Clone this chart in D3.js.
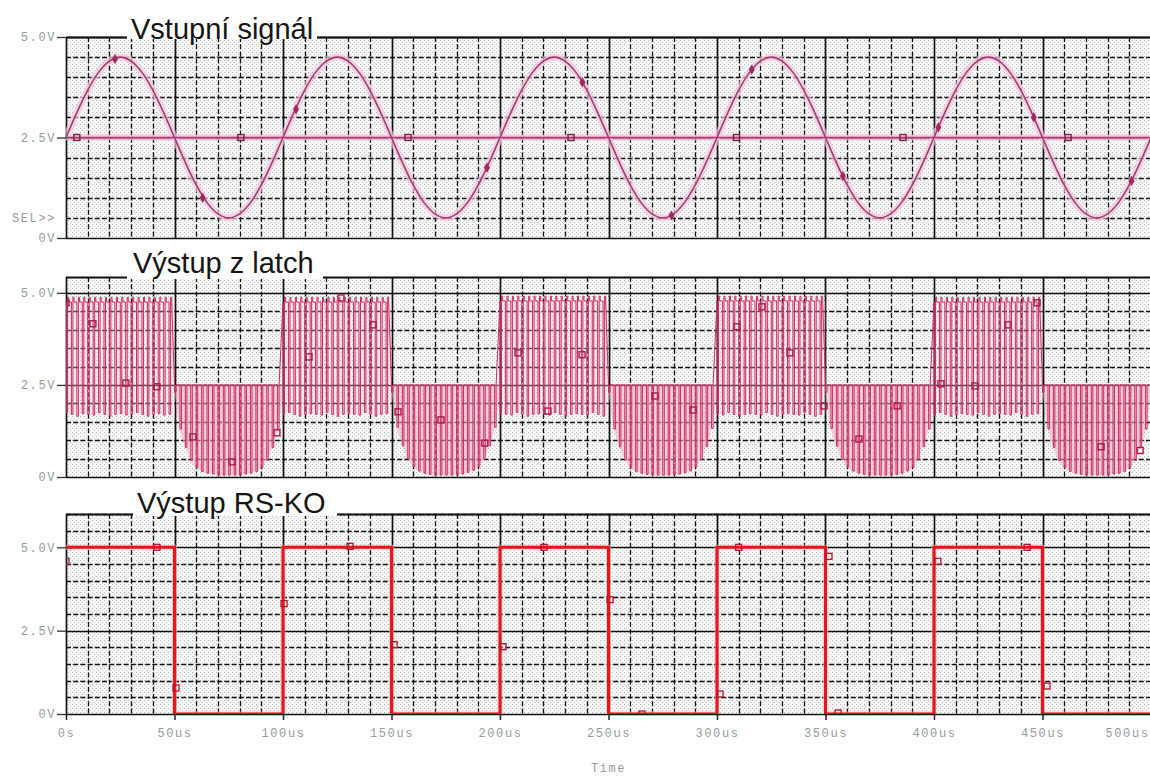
<!DOCTYPE html>
<html>
<head>
<meta charset="utf-8">
<script src="https://cdn.jsdelivr.net/npm/d3@7"></script>
<style>
  body { margin: 0; background: #fff; }
  svg { display: block; }
  .lbl text, text.lbl { font-family: "Liberation Mono", "DejaVu Sans Mono", monospace; font-size: 12px; fill: #959ca1; letter-spacing: 1.6px; }
  .ttl { font-family: "Liberation Sans", Arial, sans-serif; font-size: 29px; fill: #151515; }
</style>
</head>
<body>
<script>
// ---- data ----

var titles = ["Vstupní signál", "Výstup z latch", "Výstup RS-KO"];

var timeTicks = [0, 50, 100, 150, 200, 250, 300, 350, 400, 450, 500];
var timeLabels = ["0s", "50us", "100us", "150us", "200us", "250us", "300us", "350us", "400us", "450us", "500us"];

var voltTicks = [5, 2.5, 0];
var voltLabels = ["5.0V", "2.5V", "0V"];

// input sine, sampled every 5us
var sineStep = 5;
var sineValues = [
  2.50, 3.12, 3.68, 4.12, 4.40, 4.50, 4.40, 4.12, 3.68, 3.12,
  2.50, 1.88, 1.32, 0.88, 0.60, 0.50, 0.60, 0.88, 1.32, 1.88,
  2.50, 3.12, 3.68, 4.12, 4.40, 4.50, 4.40, 4.12, 3.68, 3.12,
  2.50, 1.88, 1.32, 0.88, 0.60, 0.50, 0.60, 0.88, 1.32, 1.88,
  2.50, 3.12, 3.68, 4.12, 4.40, 4.50, 4.40, 4.12, 3.68, 3.12,
  2.50, 1.88, 1.32, 0.88, 0.60, 0.50, 0.60, 0.88, 1.32, 1.88,
  2.50, 3.12, 3.68, 4.12, 4.40, 4.50, 4.40, 4.12, 3.68, 3.12,
  2.50, 1.88, 1.32, 0.88, 0.60, 0.50, 0.60, 0.88, 1.32, 1.88,
  2.50, 3.12, 3.68, 4.12, 4.40, 4.50, 4.40, 4.12, 3.68, 3.12,
  2.50, 1.88, 1.32, 0.88, 0.60, 0.50, 0.60, 0.88, 1.32, 1.88,
  2.50
];
var refLevel = [[0, 2.5], [500, 2.5]];
var sineMarks = [[22.6, 4.45], [63, 1.0], [106, 3.2], [194, 1.75], [238, 3.87], [279, 0.56],
                 [316, 4.19], [358, 1.54], [402, 2.75], [446, 3.0], [491, 1.42]];
var refMarks = [5, 80.6, 157.6, 232.7, 309, 385.7, 461.8];

// latch output: phases of 50us, ceiling level per phase, and where each
// clock spike (every 2.5us) ends
var latchStep = 2.5;
var latchPhaseStart = [0, 50, 100, 150, 200, 250, 300, 350, 400, 450];
var latchTop = [4.75, 2.5, 4.75, 2.5, 4.78, 2.5, 4.78, 2.5, 4.75, 2.5];
var latchFloor = [
  [1.75, 1.70, 1.65, 1.72, 1.70, 1.68, 1.75, 1.70, 1.65, 1.70, 1.72, 1.68, 1.70, 1.75, 1.70, 1.65, 1.70, 1.72, 1.68, 1.70],
  [2.30, 1.30, 0.80, 0.45, 0.25, 0.15, 0.10, 0.08, 0.05, 0.05, 0.05, 0.05, 0.05, 0.08, 0.10, 0.15, 0.25, 0.45, 0.80, 1.30],
  [1.70, 1.75, 1.70, 1.65, 1.70, 1.72, 1.70, 1.68, 1.75, 1.70, 1.65, 1.70, 1.72, 1.70, 1.68, 1.75, 1.70, 1.65, 1.70, 1.72],
  [2.30, 1.35, 0.85, 0.50, 0.28, 0.16, 0.10, 0.07, 0.05, 0.05, 0.05, 0.05, 0.06, 0.08, 0.12, 0.18, 0.28, 0.48, 0.85, 1.35],
  [1.72, 1.70, 1.68, 1.75, 1.70, 1.65, 1.70, 1.72, 1.70, 1.68, 1.75, 1.70, 1.65, 1.70, 1.72, 1.70, 1.68, 1.75, 1.70, 1.65],
  [2.30, 1.30, 0.82, 0.46, 0.26, 0.15, 0.10, 0.07, 0.05, 0.05, 0.05, 0.05, 0.06, 0.08, 0.11, 0.16, 0.27, 0.47, 0.82, 1.32],
  [1.70, 1.68, 1.75, 1.70, 1.65, 1.70, 1.72, 1.70, 1.68, 1.75, 1.70, 1.65, 1.70, 1.72, 1.70, 1.68, 1.75, 1.70, 1.65, 1.70],
  [2.30, 1.32, 0.84, 0.48, 0.27, 0.16, 0.10, 0.07, 0.05, 0.05, 0.05, 0.05, 0.05, 0.07, 0.10, 0.16, 0.26, 0.46, 0.82, 1.30],
  [1.68, 1.75, 1.70, 1.65, 1.70, 1.72, 1.70, 1.68, 1.75, 1.70, 1.65, 1.70, 1.72, 1.70, 1.68, 1.75, 1.70, 1.65, 1.70, 1.72],
  [2.30, 1.30, 0.80, 0.45, 0.25, 0.15, 0.10, 0.07, 0.05, 0.05, 0.05, 0.05, 0.05, 0.08, 0.10, 0.15, 0.25, 0.45, 0.80, 1.30]
];
var latchMarks = [[0, 4.73], [12.4, 4.16], [27.6, 2.55], [41.9, 2.45], [58.5, 1.09], [76.5, 0.41],
                  [97.2, 1.2], [112, 3.26], [126.7, 4.86], [141.5, 4.13], [153, 1.77], [172.8, 1.55],
                  [193, 0.92], [208.3, 3.37], [222.1, 1.79], [237.8, 3.32], [271.4, 2.2], [289, 1.82],
                  [309.2, 4.08], [320.7, 4.62], [333.6, 3.37], [349.3, 1.93], [365.4, 1.03], [383, 1.93],
                  [403.2, 2.53], [418.9, 2.47], [434.1, 4.13], [447.5, 4.73], [477, 0.82], [495, 0.72]];

// RS flip-flop output (step changes)
var rsTimes = [0, 50, 100, 150, 200, 250, 300, 350, 400, 450, 500];
var rsValues = [5, 0, 5, 0, 5, 0, 5, 0, 5, 0, 0];
var rsMarks = [[0, 4.58], [41.9, 5.0], [50.7, 0.78], [100.5, 3.31], [130.9, 5.03], [151.2, 2.08],
               [201.4, 2.02], [220.3, 5.0], [250.7, 3.43], [265.4, 0.0], [301.4, 0.6], [310, 5.0],
               [351.6, 4.73], [355.8, 0.03], [401.8, 4.58], [442.9, 5.0], [452.1, 0.84]];

// ---- layout ----
var width = 1150, height = 776;

var x = d3.scaleLinear().domain([0, 500]).range([66, 1151]);

var panels = [
  { y: d3.scaleLinear().domain([0, 5]).range([238, 37]),    gap: [127, 317], tx: 131, ty: 39 },
  { y: d3.scaleLinear().domain([0, 5.43]).range([477, 277]), gap: [127, 323], tx: 133, ty: 273 },
  { y: d3.scaleLinear().domain([0, 6]).range([714, 514]),   gap: [133, 337], tx: 137, ty: 513 }
];

var svg = d3.select("body").append("svg")
  .attr("width", width)
  .attr("height", height);

var defs = svg.append("defs");

// stippled grey plot background
var pat = defs.append("pattern")
  .attr("id", "stip")
  .attr("width", 4).attr("height", 4)
  .attr("patternUnits", "userSpaceOnUse");
pat.append("rect").attr("width", 4).attr("height", 4).attr("fill", "#f7f7f7");
pat.append("rect").attr("x", 0).attr("y", 0).attr("width", 1).attr("height", 1).attr("fill", "#bababa");
pat.append("rect").attr("x", 2).attr("y", 2).attr("width", 1).attr("height", 1).attr("fill", "#cdcdcd");

var gridT = d3.range(0, 500.001, 10);

panels.forEach(function (p, i) {
  var yb = p.y.range()[0], yt = p.y.range()[1], top = p.y.domain()[1];

  defs.append("clipPath").attr("id", "clip" + i)
    .append("rect")
      .attr("x", x(0)).attr("y", yt)
      .attr("width", x(500) - x(0)).attr("height", yb - yt);

  var g = svg.append("g");

  g.append("rect")
    .attr("x", x(0)).attr("y", yt)
    .attr("width", x(500) - x(0)).attr("height", yb - yt)
    .attr("fill", "url(#stip)");

  // horizontal grid, every 0.5V
  var hv = d3.range(0, top + 1e-6, 0.5);
  g.selectAll(".hgrid")
    .data(hv)
    .join("line")
      .attr("x1", x(0)).attr("x2", x(500))
      .attr("y1", function (d) { return Math.round(p.y(d)) + 0.5; })
      .attr("y2", function (d) { return Math.round(p.y(d)) + 0.5; })
      .attr("stroke", "#111")
      .attr("stroke-width", function (d) { return d % 2.5 === 0 ? 1.7 : 1.3; })
      .attr("stroke-dasharray", function (d) { return d % 2.5 === 0 ? null : "5,2.2"; });

  // vertical grid, every 10us
  g.selectAll(".vgrid")
    .data(gridT)
    .join("line")
      .attr("x1", function (d) { return Math.round(x(d)) + 0.5; })
      .attr("x2", function (d) { return Math.round(x(d)) + 0.5; })
      .attr("y1", yt).attr("y2", yb)
      .attr("stroke", "#111")
      .attr("stroke-width", function (d) { return d % 50 === 0 ? 1.7 : 1.3; })
      .attr("stroke-dasharray", function (d) { return d % 50 === 0 ? null : "5,2.2"; });

  // top border
  g.append("line")
    .attr("x1", x(0)).attr("x2", x(500))
    .attr("y1", Math.round(yt) + 0.5).attr("y2", Math.round(yt) + 0.5)
    .attr("stroke", "#111").attr("stroke-width", 1.8);

  // y axis labels with their little lead-in ticks
  var ax = g.append("g")
    .attr("class", "lbl")
    .attr("transform", "translate(" + x(0) + ",0)")
    .call(d3.axisLeft(p.y)
      .tickValues(voltTicks)
      .tickFormat(function (d, k) { return voltLabels[k]; })
      .tickSize(9)
      .tickPadding(1));
  ax.select(".domain").remove();
  ax.selectAll(".tick line").attr("stroke", "#333").attr("stroke-width", 1.3);
  ax.selectAll("text").attr("font-family", null).attr("font-size", null);
});

// ---- panel 1: input sine and 2.5V reference ----
var y1 = panels[0].y;
var line1 = d3.line()
  .x(function (d, k) { return x(k * sineStep); })
  .y(function (d) { return y1(d); })
  .curve(d3.curveCatmullRom);
var refLine = d3.line()
  .x(function (d) { return x(d[0]); })
  .y(function (d) { return y1(d[1]); });

var t1 = svg.append("g").attr("clip-path", "url(#clip0)");
t1.append("path").attr("d", refLine(refLevel))
  .attr("fill", "none").attr("stroke", "#f4bdd6").attr("stroke-width", 6).attr("opacity", 0.7);
t1.append("path").attr("d", line1(sineValues))
  .attr("fill", "none").attr("stroke", "#f6c4dc").attr("stroke-width", 7).attr("opacity", 0.7);
t1.append("path").attr("d", refLine(refLevel))
  .attr("fill", "none").attr("stroke", "#b23474").attr("stroke-width", 1.7);
t1.append("path").attr("d", line1(sineValues))
  .attr("fill", "none").attr("stroke", "#9e3f72").attr("stroke-width", 1.6);

t1.selectAll(".sm")
  .data(sineMarks)
  .join("path")
    .attr("transform", function (d) { return "translate(" + x(d[0]) + "," + y1(d[1]) + ")"; })
    .attr("d", d3.symbol(d3.symbolDiamond, 30))
    .attr("fill", "#a0285e");
t1.selectAll(".rm")
  .data(refMarks)
  .join("rect")
    .attr("x", function (d) { return x(d) - 3; })
    .attr("y", y1(2.5) - 3)
    .attr("width", 6).attr("height", 6)
    .attr("fill", "none").attr("stroke", "#7c1f48").attr("stroke-width", 1.4);

// SEL>> marker label
svg.append("text")
  .attr("class", "lbl")
  .attr("x", 56).attr("y", y1(0.5) + 4)
  .attr("text-anchor", "end")
  .text("SEL>>");

// ---- panel 2: latch output ----
var y2 = panels[1].y;
var latchPts = [];
latchPhaseStart.forEach(function (s, pi) {
  var topV = latchTop[pi], high = topV > 3;
  latchFloor[pi].forEach(function (f, j) {
    var t = s + j * latchStep;
    latchPts.push([t, topV], [t, f], [t + 0.7, f]);
    if (high) {
      latchPts.push([t + 0.7, topV + 0.13], [t + 1.2, topV + 0.13], [t + 1.2, topV]);
    } else {
      latchPts.push([t + 0.7, topV]);
    }
  });
});
latchPts.push([500, 2.5]);

var line2 = d3.line()
  .x(function (d) { return x(d[0]); })
  .y(function (d) { return y2(d[1]); });

var t2 = svg.append("g").attr("clip-path", "url(#clip1)");

// pink haze where the spikes are dense
latchPhaseStart.forEach(function (s, pi) {
  var topV = latchTop[pi], high = topV > 3;
  var pts = latchFloor[pi].map(function (f, j) { return [s + j * latchStep, f]; });
  pts.push([s + 50, high ? latchFloor[pi][19] : 2.3]);
  var area = d3.area()
    .x(function (d) { return x(d[0]); })
    .y0(y2(topV))
    .y1(function (d) { return y2(d[1]); })
    .curve(d3.curveMonotoneX);
  t2.append("path")
    .attr("d", area(pts))
    .attr("fill", high ? "#f7d2e1" : "#f0afc9")
    .attr("opacity", high ? 0.3 : 0.55);
});

t2.append("path").attr("d", line2(latchPts))
  .attr("fill", "none").attr("stroke", "#cc2c62").attr("stroke-width", 1);

t2.selectAll(".lm")
  .data(latchMarks)
  .join("rect")
    .attr("x", function (d) { return x(d[0]) - 3; })
    .attr("y", function (d) { return y2(d[1]) - 3; })
    .attr("width", 6).attr("height", 6)
    .attr("fill", "none").attr("stroke", "#a81d48").attr("stroke-width", 1.4);

// ---- panel 3: RS flip-flop output ----
var y3 = panels[2].y;
var line3 = d3.line()
  .x(function (d, k) { return x(rsTimes[k]); })
  .y(function (d) { return y3(d); })
  .curve(d3.curveStepAfter);

var t3 = svg.append("g").attr("clip-path", "url(#clip2)");
t3.append("path").attr("d", line3(rsValues))
  .attr("fill", "none").attr("stroke", "#f7b7b7").attr("stroke-width", 5).attr("opacity", 0.6);
t3.append("path").attr("d", line3(rsValues))
  .attr("fill", "none").attr("stroke", "#e8161c").attr("stroke-width", 3);

t3.selectAll(".rsm")
  .data(rsMarks)
  .join("rect")
    .attr("x", function (d) { return x(d[0]) - 3; })
    .attr("y", function (d) { return y3(d[1]) - 3; })
    .attr("width", 6).attr("height", 6)
    .attr("fill", "none").attr("stroke", "#b0182a").attr("stroke-width", 1.3);

// ---- titles sit in a gap of the top border ----
panels.forEach(function (p, i) {
  var yt = p.y.range()[1];
  svg.append("rect")
    .attr("x", p.gap[0]).attr("y", yt - 30)
    .attr("width", p.gap[1] - p.gap[0]).attr("height", 32)
    .attr("fill", "#fff");
  svg.append("text")
    .attr("class", "ttl")
    .attr("x", p.tx).attr("y", p.ty)
    .text(titles[i]);
});

// ---- time axis ----
var xa = svg.append("g")
  .attr("class", "lbl")
  .attr("transform", "translate(0," + y3(0) + ")")
  .call(d3.axisBottom(x)
    .tickValues(timeTicks)
    .tickFormat(function (d, k) { return timeLabels[k]; })
    .tickSize(6)
    .tickPadding(8));
xa.select(".domain").remove();
xa.selectAll(".tick line").attr("stroke", "#222").attr("stroke-width", 1.5);
xa.selectAll("text").attr("font-family", null).attr("font-size", null);
// last label would run off the right edge: keep it inside
xa.selectAll(".tick text")
  .filter(function (d) { return d === 500; })
  .attr("text-anchor", "end")
  .attr("x", -2);

svg.append("text")
  .attr("class", "lbl")
  .attr("x", (x(0) + x(500)) / 2).attr("y", 772)
  .attr("text-anchor", "middle")
  .text("Time");
</script>
</body>
</html>
